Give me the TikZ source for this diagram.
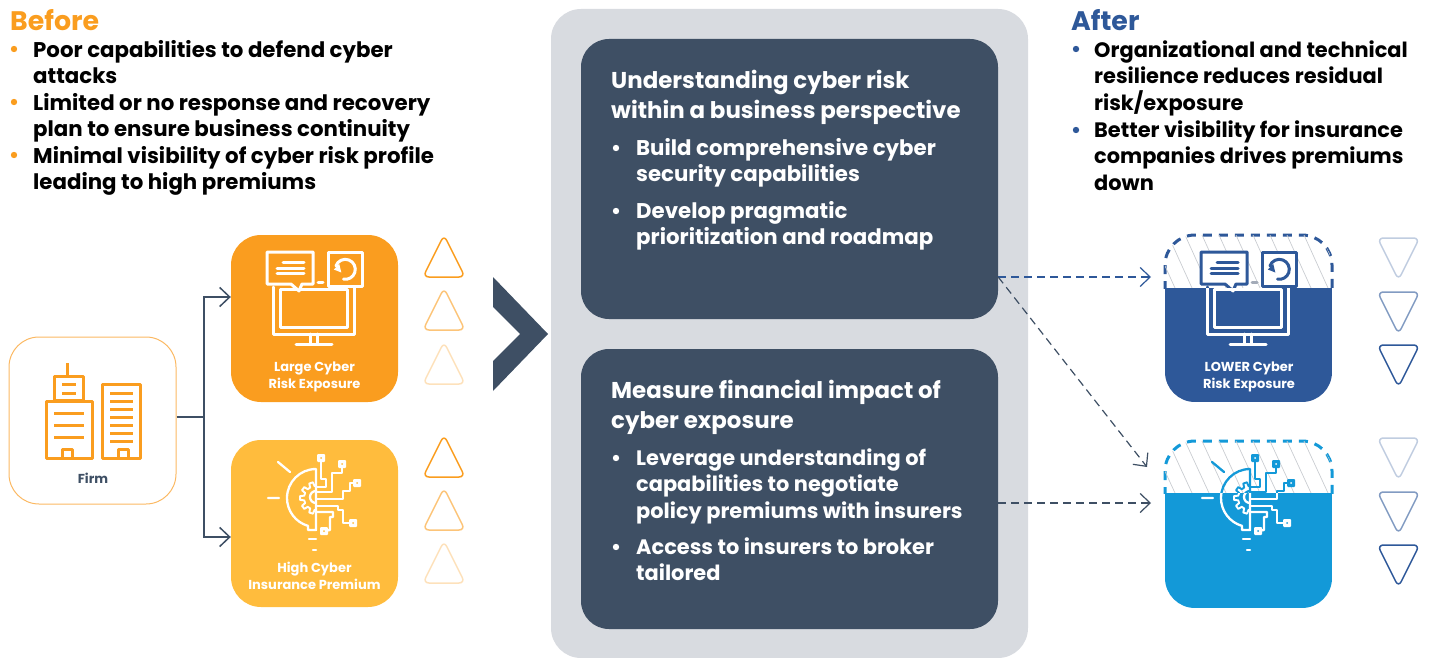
\documentclass[tikz,border=0pt]{standalone}
\usepackage{fontspec}
\setmainfont{Poppins}
\usetikzlibrary{arrows.meta}
\definecolor{orangeC}{HTML}{FA9D1F}
\definecolor{yellowC}{HTML}{FFBC3D}
\definecolor{blueC}{HTML}{2E5899}
\definecolor{cyanC}{HTML}{1399D8}
\definecolor{darkC}{HTML}{3E4F64}
\definecolor{panelC}{HTML}{D8DBE0}
\definecolor{hatchC}{HTML}{C9CCD1}
\definecolor{dashC}{HTML}{A3ABB8}
\definecolor{firmC}{HTML}{FBB862}
\tikzset{
  card/.style={rectangle,rounded corners=30pt,minimum width=167pt,minimum height=167pt,inner sep=0pt},
  slab/.style={rectangle,rounded corners=28pt,fill=darkC,minimum width=417pt,minimum height=280pt,inner sep=0pt},
  para/.style={anchor=north west,inner sep=0pt,align=left,yshift=22pt,font=\fontsize{21.3}{26.5}\selectfont\bfseries},
  parb/.style={anchor=north west,inner sep=0pt,align=left,yshift=22pt,font=\fontsize{20.9}{26.5}\selectfont\bfseries},
  head/.style={anchor=north west,inner sep=0pt,align=left,yshift=22pt,font=\fontsize{22.9}{30}\selectfont\bfseries,text=white},
  title/.style={anchor=base west,inner sep=0pt,font=\fontsize{26.8}{30}\selectfont\bfseries},
  tag/.style={inner sep=0pt,align=center,font=\fontsize{13}{17}\selectfont\bfseries},
  iconl/.style={line width=3pt,line join=round,line cap=round},
  thinicon/.style={line width=2.3pt,line join=round,line cap=round},
  barb/.style={-{Straight Barb[length=10pt,width=19pt]},line width=1.5pt},
  tri/.style={line width=1.5pt,rounded corners=6pt},
  dashedge/.style={line width=3pt,dash pattern=on 9pt off 7pt,rounded corners=30pt},
}
\newcommand{\fl}{\rule{0pt}{22pt}}
\newcommand{\dotb}[3]{\fill[#1] (#2,#3) circle[radius=3.2pt];}
\newcommand{\iconMonitor}[3]{%
  \begin{scope}[iconl,draw=#1]
    \draw (273,287)--(273,334)--(354,334)--(354,287);
    \draw (280,289) rectangle (347,327);
    \draw (310,334)--(310,344) (317,334)--(317,344) (296,344)--(332,344);
    \draw[fill=#2] (267,252)--(313,252)--(313,284)--(302,284)--(299,291)--(291,284)--(267,284)--cycle;
    \draw (283,262)--(304,262) (277,268)--(304,268) (277,273)--(304,273);
    \draw[fill=#2] (328,252) rectangle (362,286);
    \draw[draw=#3] (318,282)--(323,282);
    \draw (335.9,265.9) arc[start angle=160,end angle=-100,radius=10pt];
    \fill[#1] (333.8,269.5)--(339.3,264)--(341.3,272.5)--cycle;
  \end{scope}}
\newcommand{\iconBulb}[2]{%
  \begin{scope}[thinicon,draw=#1]
    \draw (278,462)--(290,472) (268,498)--(279,498);
    \draw (316,469) arc[start angle=90,end angle=254,radius=29pt] -- ++(0,4) -- (316,530) -- (316,469);
    \draw (321,459)--(321,479)--(326,479)--(326,487)--(316,487);
    \draw (342,464)--(342,473)--(332,473)--(332,492)--(316,492);
    \draw (357,483)--(350,483)--(350,491)--(343,491)--(343,499)--(316,499);
    \draw (316,506)--(338,506)--(338,510)--(343,510)--(343,523)--(353,523);
    \draw (316,512)--(333,512)--(333,517)--(330,517)--(330,530)--(324,531);
    \draw[line width=1.9pt] (316,498) +(90:12pt)
      \foreach \t in {108,144,180,216,252}{
        -- +(\t-11:12pt) -- +(\t-7:16pt) -- +(\t+7:16pt) -- +(\t+11:12pt)}
      -- +(270:12pt);
    \draw (316,491) arc[start angle=90,end angle=270,radius=6pt];
    \draw (309,539)--(316,539) (313,550)--(316,550);
    \foreach \a/\b in {321/458,342/464,357/483,353/523,324/531}{
      \fill[#1,rounded corners=1pt] (\a-4,\b-4) rectangle (\a+4,\b+4);
      \fill[#2] (\a,\b) circle[radius=1pt];}
  \end{scope}}
\begin{document}
\begin{tikzpicture}[x=1pt,y=-1pt]
\useasboundingbox (0,0) rectangle (1433,658);

% Before text
\node[title,text=orangeC] (before) at (10,31) {Before};
\foreach \y in {49,102,155}{\dotb{orangeC}{14}{\y}}
\node[para] (b1) at (33,57) {\fl Poor capabilities to defend cyber\\attacks};
\node[para] (b2) at (33,110) {\fl Limited or no response and recovery\\plan to ensure business continuity};
\node[para] (b3) at (33,163) {\fl Minimal visibility of cyber risk profile\\leading to high premiums};

% After text
\node[title,text=blueC] (after) at (1071,31) {After};
\foreach \y in {49,130}{\dotb{blueC}{1076}{\y}}
\node[parb] (a1) at (1094,57) {\fl Organizational and technical\\resilience reduces residual\\risk/exposure};
\node[parb] (a2) at (1094,137) {\fl Better visibility for insurance\\companies drives premiums\\down};

% Firm
\node[card,draw=firmC,line width=1pt] (firm) at (92.5,420.5) {};
\begin{scope}[iconl,line width=3pt,draw=orangeC,line cap=butt]
  \draw (67,363)--(67,376);
  \draw (54,376) rectangle (83,400);
  \draw (62,384)--(76,384) (62,393)--(76,393);
  \draw (46,401) rectangle (92,458);
  \draw (54,413)--(84,413) (54,425)--(84,425) (54,437)--(84,437);
  \draw (62,458)--(62,449)--(72,449)--(72,458);
  \draw (102,384) rectangle (140,458);
  \foreach \y in {393,401,409,417,425,433,441}{\draw (110,\y)--(133,\y);}
  \draw (118,458)--(118,449)--(128,449)--(128,458);
\end{scope}
\node[tag,text=darkC] (firmlabel) at (93,478.5) {Firm};

% Before cards
\node[card,fill=orangeC] (risk) at (314.5,318.5) {};
\iconMonitor{white}{orangeC}{white}
\node[tag,text=white,anchor=base] (risklabel) at (314.5,388) {Large Cyber\\Risk Exposure};
\node[card,fill=yellowC] (premium) at (314.5,523.5) {};
\iconBulb{white}{yellowC}
\node[tag,text=white,anchor=base] (premiumlabel) at (314.5,589) {High Cyber\\Insurance Premium};

% Firm connectors
\coordinate (split) at (204,417);
\coordinate (riskin) at (231,297);
\coordinate (premiumin) at (231,537);
\draw[darkC,line width=1.5pt] (firm.east |- split) -- (split);
\draw[darkC,barb] (split) |- (risk.west |- riskin);
\draw[darkC,barb] (split) |- (premium.west |- premiumin);

% Triangles up
\foreach \y/\o in {277/1,330/.6,384/.3,477/1,530/.6,583/.3}{
  \draw[tri,orangeC,draw opacity=\o] (444,\y-42)--(465,\y)--(423,\y)--cycle;}
% Triangles down
\foreach \y/\o in {238/.3,292/.6,345/1,438/.3,492/.6,545/1}{
  \draw[tri,blueC,draw opacity=\o] (1398.5,\y+42)--(1377.5,\y)--(1419.5,\y)--cycle;}

% Chevron
\fill[darkC] (493,277)--(548,334)--(493,391)--(493,361)--(520,334)--(493,307)--cycle;

% Central panel
\node[rectangle,rounded corners=30pt,fill=panelC,minimum width=477pt,minimum height=649pt,inner sep=0pt] (panel) at (789.5,333.5) {};
\node[slab] (top) at (789.5,179) {};
\node[slab] (bottom) at (789.5,489) {};
\node[head] (t0) at (611,88) {\fl Understanding cyber risk\\within a business perspective};
\foreach \y in {148,211,458,547}{\dotb{white}{616}{\y}}
\node[para,text=white] (t1) at (636,155) {\fl Build comprehensive cyber\\security capabilities};
\node[para,text=white] (t2) at (636,218) {\fl Develop pragmatic\\prioritization and roadmap};
\node[head] (u0) at (611,398) {\fl Measure financial impact of\\cyber exposure};
\node[parb,text=white] (u1) at (636,465) {\fl Leverage understanding of\\capabilities to negotiate\\policy premiums with insurers};
\node[parb,text=white] (u2) at (636,554) {\fl Access to insurers to broker\\tailored};

% After card 1
\node[card] (lower) at (1248.5,318.5) {};
\begin{scope}
  \clip (1160,230) rectangle (1337,288);
  \draw[dashedge,blueC] (1165,402) -- (1165,235) -- (1332,235) -- (1332,402);
\end{scope}
\begin{scope}
  \clip[rounded corners=30pt] (1165,235) rectangle (1332,402);
  \foreach \x in {1100,1117,...,1340}{\draw[hatchC,line width=.7pt] (\x,235)--(\x+24,288);}
  \fill[blueC] (1165,288) rectangle (1332,402);
\end{scope}
\begin{scope}[xshift=934pt]
  \begin{scope}
    \clip (231,230) rectangle (398,288);
    \iconMonitor{blueC}{white}{dashC}
  \end{scope}
  \begin{scope}
    \clip (231,288) rectangle (398,402);
    \iconMonitor{white}{blueC}{dashC}
  \end{scope}
\end{scope}
\node[tag,text=white,anchor=base] (lowerlabel) at (1249,388) {LOWER Cyber\\Risk Exposure};

% After card 2
\node[card] (cheap) at (1248.5,524.5) {};
\begin{scope}
  \clip (1160,436) rectangle (1337,493);
  \draw[dashedge,cyanC] (1165,608) -- (1165,441) -- (1332,441) -- (1332,608);
\end{scope}
\begin{scope}
  \clip[rounded corners=30pt] (1165,441) rectangle (1332,608);
  \foreach \x in {1100,1117,...,1340}{\draw[hatchC,line width=.7pt] (\x,441)--(\x+24,493);}
  \fill[cyanC] (1165,493) rectangle (1332,608);
\end{scope}
\begin{scope}[xshift=934pt]
  \begin{scope}
    \clip (231,436) rectangle (398,493);
    \iconBulb{cyanC}{white}
  \end{scope}
  \begin{scope}
    \clip (231,493) rectangle (398,608);
    \iconBulb{white}{cyanC}
  \end{scope}
\end{scope}

% Dashed connectors
\coordinate (o1) at (998,277);
\coordinate (o2) at (998,503);
\coordinate (i1) at (1151,277);
\coordinate (i2) at (1147,467);
\coordinate (i3) at (1151,503);
\draw[barb,blueC,line width=1.2pt,dash pattern=on 8pt off 5pt] (top.east |- o1) -- (i1);
\draw[barb,darkC,line width=1.2pt,dash pattern=on 8pt off 5pt] (top.east |- o1) -- (i2);
\draw[barb,darkC,line width=1.2pt,dash pattern=on 8pt off 5pt] (bottom.east |- o2) -- (i3);
\end{tikzpicture}
\end{document}
